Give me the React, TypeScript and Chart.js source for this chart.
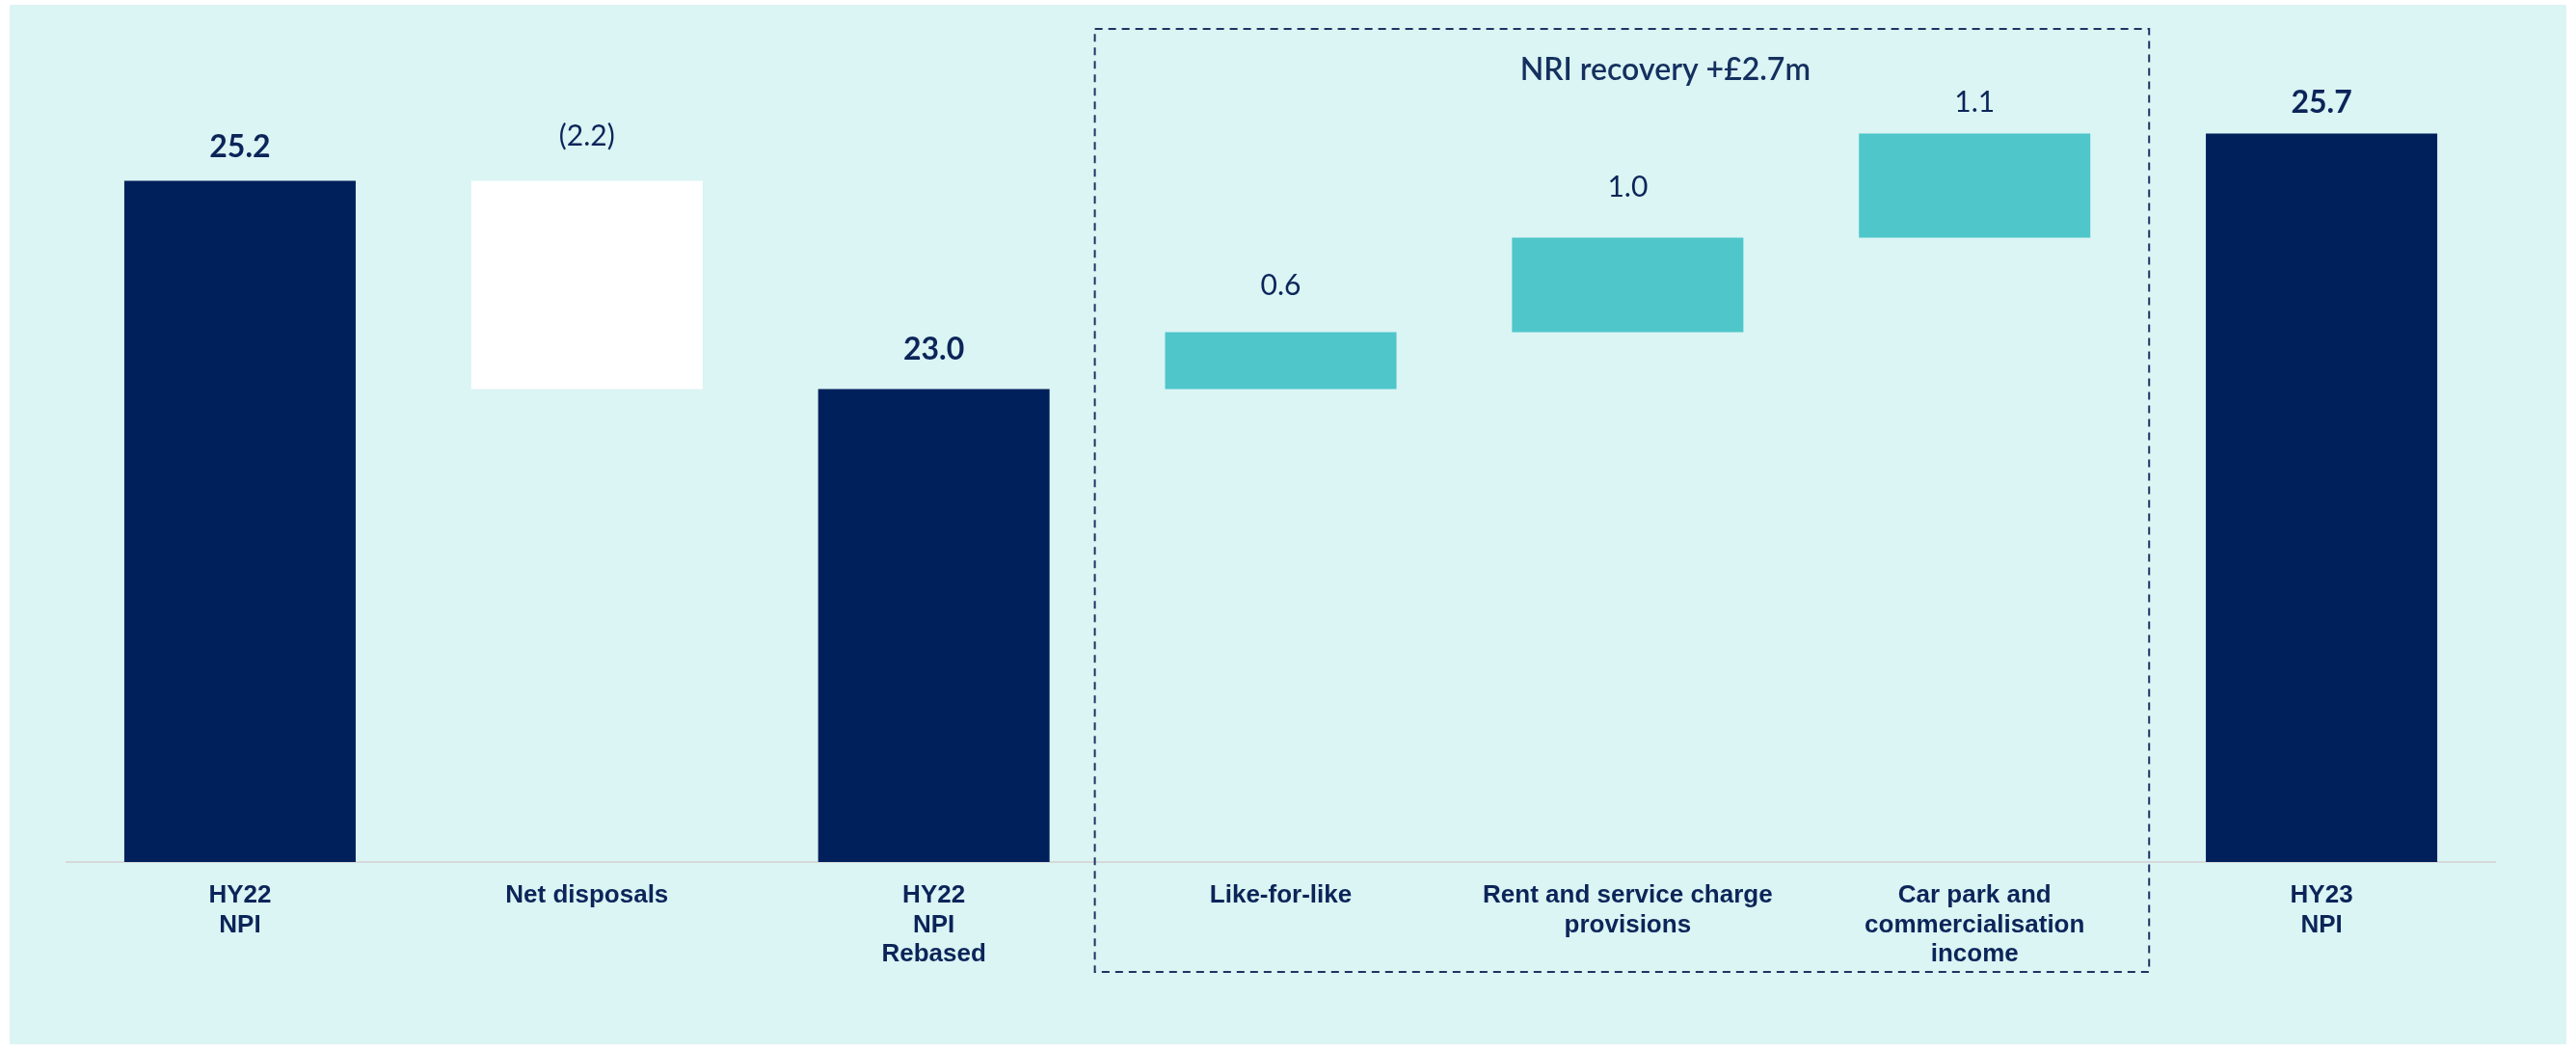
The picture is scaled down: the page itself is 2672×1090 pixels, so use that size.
import React, { useEffect, useRef } from "react";
import { Chart, registerables } from "chart.js";

Chart.register(...registerables);

// ---- data ----
const categories: string[][] = [
  ["HY22", "NPI"],
  ["Net disposals"],
  ["HY22", "NPI", "Rebased"],
  ["Like-for-like"],
  ["Rent and service charge", "provisions"],
  ["Car park and", "commercialisation", "income"],
  ["HY23", "NPI"],
];
const values: number[] = [25.2, -2.2, 23.0, 0.6, 1.0, 1.1, 25.7];
const isTotal: boolean[] = [true, false, true, false, false, false, true];
const groupTitle = "NRI recovery +£2.7m";
const yMin = 18;
const yMax = 26.5;

// ---- style ----
const BG = "#DBF4F4";
const NAVY = "#00205B";
const TEAL = "#4FC6CA";
const TEXT = "#0B2559";
const LABEL_GAP = [35, 46, 41, 48, 52, 32, 32];

function buildRanges(): [number, number][] {
  let running = 0;
  return values.map((v, i) => {
    if (isTotal[i]) {
      running = v;
      return [yMin, v] as [number, number];
    }
    const start = running;
    running = running + v;
    return [Math.min(start, running), Math.max(start, running)] as [number, number];
  });
}

function fmt(v: number): string {
  const s = Math.abs(v).toFixed(1);
  return v < 0 ? `(${s})` : s;
}

const labelPlugin = {
  id: "waterfallLabels",
  afterDatasetsDraw(chart: any) {
    const { ctx, chartArea } = chart;
    const meta = chart.getDatasetMeta(0);
    const xScale = chart.scales.x;
    ctx.save();
    ctx.textAlign = "center";
    ctx.textBaseline = "middle";
    ctx.fillStyle = TEXT;
    meta.data.forEach((el: any, i: number) => {
      const top = Math.min(el.y, el.base);
      ctx.font = isTotal[i]
        ? "bold 32px Lato, 'Open Sans', sans-serif"
        : "30px Lato, 'Open Sans', sans-serif";
      ctx.fillText(fmt(values[i]), el.x, top - LABEL_GAP[i]);
    });

    // dashed group box
    const catW = (chartArea.right - chartArea.left) / categories.length;
    const left = xScale.getPixelForValue(3) - 0.536 * catW;
    const right = xScale.getPixelForValue(5) + 0.503 * catW;
    const top = chartArea.top - 30;
    const bottom = chartArea.bottom + 114;
    ctx.strokeStyle = "#1D3461";
    ctx.lineWidth = 2;
    ctx.setLineDash([8, 6]);
    ctx.strokeRect(left, top, right - left, bottom - top);
    ctx.setLineDash([]);

    // group title
    ctx.font = "600 32px Lato, 'Open Sans', sans-serif";
    ctx.fillStyle = "#14305E";
    ctx.fillText(groupTitle, xScale.getPixelForValue(4) + 39, chartArea.top + 13);
    ctx.restore();
  },
};

export default function App() {
  const ref = useRef<HTMLCanvasElement | null>(null);

  useEffect(() => {
    if (!ref.current) return;
    const ranges = buildRanges();
    const colors = values.map((v, i) => (isTotal[i] ? NAVY : v < 0 ? "#FFFFFF" : TEAL));
    const chart = new Chart(ref.current, {
      type: "bar",
      data: {
        labels: categories,
        datasets: [
          {
            data: ranges as any,
            backgroundColor: colors,
            borderWidth: 0,
            categoryPercentage: 1,
            barPercentage: 0.667,
          },
        ],
      },
      options: {
        responsive: false,
        animation: false,
        devicePixelRatio: 1,
        layout: { padding: { left: 59, right: 74, top: 55, bottom: 0 } },
        plugins: {
          legend: { display: false },
          tooltip: { enabled: false },
        },
        scales: {
          x: {
            grid: { display: false, drawTicks: false },
            border: { display: true, color: "#D6D9DA", width: 2 },
            ticks: {
              color: TEXT,
              padding: 20,
              maxRotation: 0,
              autoSkip: false,
              font: { family: "'Liberation Sans', Arial, sans-serif", weight: "bold", size: 26, lineHeight: 1.17 },
            },
            afterFit: (scale: any) => {
              scale.height = 189;
            },
          },
          y: {
            display: false,
            min: yMin,
            max: yMax,
          },
        },
      },
      plugins: [labelPlugin],
    });
    return () => chart.destroy();
  }, []);

  return (
    <div
      style={{
        position: "absolute",
        left: 10,
        top: 5,
        width: 2652,
        height: 1078,
        background: BG,
      }}
    >
      <canvas ref={ref} width={2652} height={1078} style={{ display: "block" }} />
    </div>
  );
}
